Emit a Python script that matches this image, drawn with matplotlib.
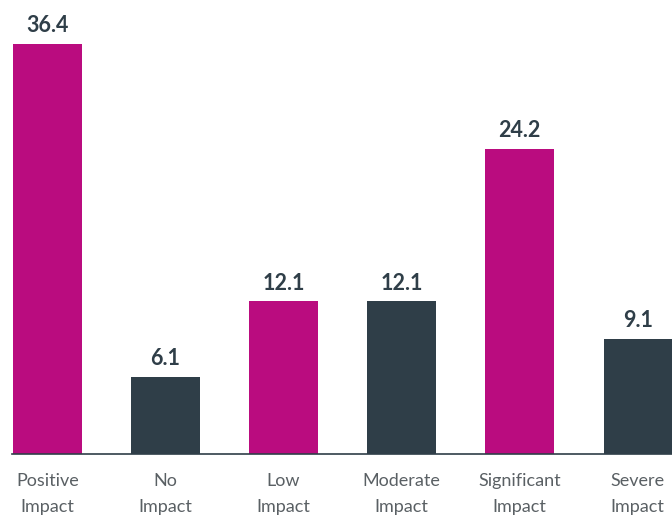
import numpy as np
import matplotlib.pyplot as plt

categories = ['Positive\nImpact', 'No\nImpact', 'Low\nImpact', 'Moderate\nImpact',
              'Significant\nImpact', 'Severe\nImpact']
values = [36.4, 6.1, 12.1, 12.1, 24.2, 9.1]
colors = ['#BA0C7F', '#2F3E48', '#BA0C7F', '#2F3E48', '#BA0C7F', '#2F3E48']

dark = '#2F3E48'
ytop = 32.5  # the tallest bar runs past the top of the plot in the original

def main():
	fig = plt.figure(figsize=(6.72, 5.15), dpi=100)
	ax = fig.add_axes([12 / 672, 61 / 515, 660 / 672, 410 / 515])

	pos = np.arange(len(values))
	ax.bar(pos, values, width=0.58, color=colors, zorder=2)

	for x, v in zip(pos, values):
		ax.annotate(f'{v:.1f}', (x, min(v, ytop)), xytext=(0, 8.5),
			textcoords='offset points', ha='center', va='baseline',
			fontsize=15.5, fontweight='bold', color=dark,
			family=['Lato', 'DejaVu Sans'], annotation_clip=False)

	ax.set_xlim(-0.3, 5.29)
	ax.set_ylim(0, ytop)
	ax.set_xticks(pos)
	ax.set_xticklabels(categories, fontsize=13, color='#5a6064',
		family=['Lato', 'DejaVu Sans'], linespacing=1.75)
	ax.tick_params(axis='x', length=0, pad=14)
	ax.set_yticks([])
	for s in ['top', 'right', 'left']:
		ax.spines[s].set_visible(False)
	ax.spines['bottom'].set_color(dark)
	ax.spines['bottom'].set_linewidth(1.2)

	fig.savefig('out.png', dpi=100)

if __name__ == '__main__':
	main()
